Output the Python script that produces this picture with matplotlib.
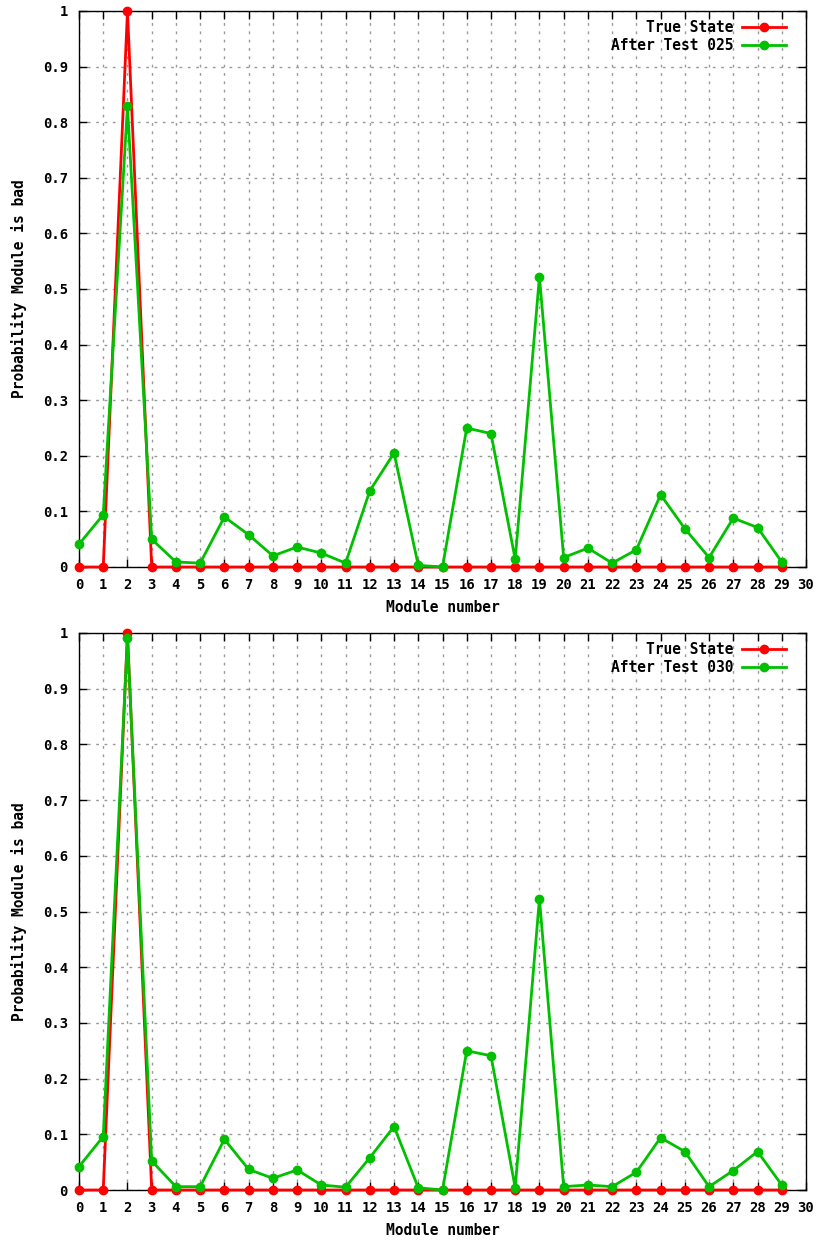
import numpy as np
import matplotlib
matplotlib.use('Agg')
import matplotlib.pyplot as plt

modules = list(range(30))
true_state = [0, 0, 1] + [0] * 27

after_025 = [0.041, 0.094, 0.829, 0.050, 0.009, 0.007, 0.090, 0.058, 0.020, 0.036,
             0.025, 0.007, 0.137, 0.205, 0.003, 0.000, 0.250, 0.240, 0.014, 0.522,
             0.017, 0.034, 0.007, 0.031, 0.130, 0.069, 0.017, 0.088, 0.071, 0.009]
after_030 = [0.042, 0.096, 0.991, 0.052, 0.006, 0.006, 0.091, 0.037, 0.021, 0.036,
             0.009, 0.005, 0.058, 0.114, 0.004, 0.000, 0.250, 0.241, 0.004, 0.523,
             0.006, 0.009, 0.006, 0.032, 0.094, 0.069, 0.006, 0.035, 0.069, 0.009]

panels = [('After Test 025', after_025), ('After Test 030', after_030)]
y_ticks = [i / 10 for i in range(11)]
y_labels = ['0'] + ['0.%d' % i for i in range(1, 10)] + ['1']

W, H = 822, 1243
fig = plt.figure(figsize=(W / 100, H / 100), dpi=100)
font = dict(family='DejaVu Sans Mono', weight='bold', size=10.5)

# pixel boxes of the two plot areas (left, top, right, bottom)
boxes = [(79, 11, 806, 567), (79, 633, 806, 1190)]

for (name, vals), (l, t, r, b) in zip(panels, boxes):
    ax = fig.add_axes([l / W, 1 - b / H, (r - l) / W, (b - t) / H])
    ax.plot(modules, true_state, color='#ff0000', lw=2, marker='o', ms=6,
            label='True State', clip_on=False, zorder=3)
    ax.plot(modules, vals, color='#00c000', lw=2, marker='o', ms=6,
            label=name, clip_on=False, zorder=4)
    ax.set_xlim(0, 30)
    ax.set_ylim(0, 1)
    ax.set_xticks(range(31))
    ax.set_yticks(y_ticks)
    ax.set_yticklabels(y_labels)
    ax.grid(True, color='#9a9a9a', linestyle=(0, (2, 4)), lw=1)
    ax.tick_params(direction='in', top=True, right=True, length=6, width=1, pad=8)
    for lab in ax.get_xticklabels() + ax.get_yticklabels():
        lab.set_fontfamily(font['family'])
        lab.set_fontweight('bold')
        lab.set_fontsize(10)
    for s in ax.spines.values():
        s.set_linewidth(1)
    ax.set_xlabel('Module number', fontdict=font, labelpad=6)
    ax.set_ylabel('Probability Module is bad', fontdict=font, labelpad=11)
    ax.legend(loc='upper right', bbox_to_anchor=(1 - 14 / 727, 1 - 3 / 556),
              frameon=False, markerfirst=False, prop=font, handlelength=3,
              handletextpad=0.6, borderaxespad=0.0, labelspacing=0.25)

fig.savefig('out.png', dpi=100)
